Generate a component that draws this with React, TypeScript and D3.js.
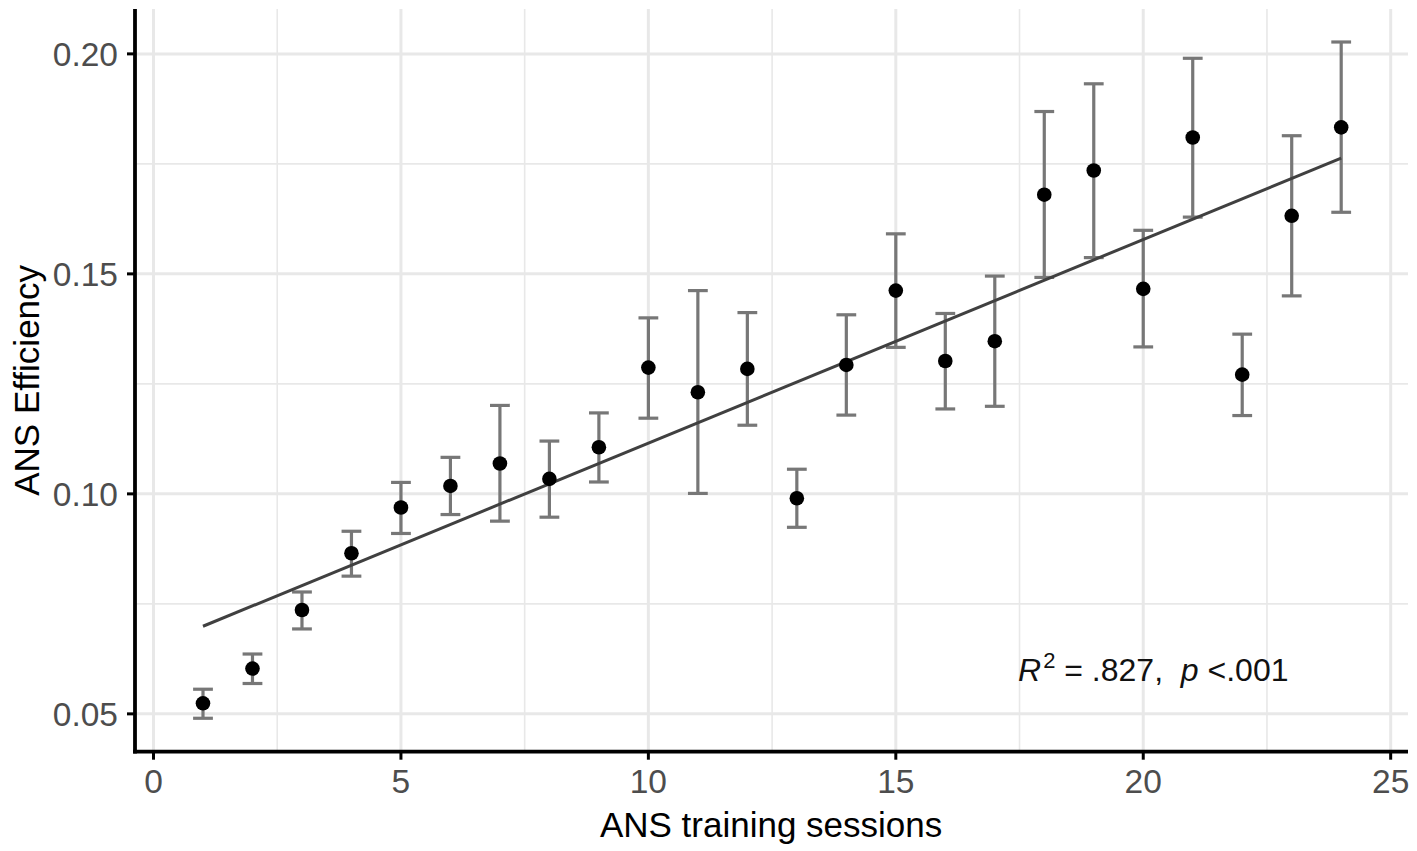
import React from "react";
import * as d3 from "d3";

// session means and error bar limits
const sessions = [1, 2, 3, 4, 5, 6, 7, 8, 9, 10, 11, 12, 13, 14, 15, 16, 17, 18, 19, 20, 21, 22, 23, 24];
const means = [
  0.0524, 0.0603, 0.0736, 0.0865, 0.0969, 0.1018, 0.1069, 0.1034, 0.1106, 0.1287, 0.1231, 0.1284,
  0.099, 0.1293, 0.1462, 0.1302, 0.1347, 0.168, 0.1735, 0.1466, 0.181, 0.1271, 0.1632, 0.1833,
];
const upper = [
  0.0556, 0.0636, 0.0777, 0.0915, 0.1026, 0.1083, 0.1201, 0.112, 0.1184, 0.14, 0.1462, 0.1412,
  0.1056, 0.1407, 0.1591, 0.141, 0.1495, 0.1869, 0.1932, 0.1599, 0.199, 0.1363, 0.1814, 0.2027,
];
const lower = [
  0.049, 0.0569, 0.0693, 0.0813, 0.091, 0.0953, 0.0938, 0.0947, 0.1027, 0.1172, 0.1001, 0.1156,
  0.0924, 0.1179, 0.1333, 0.1193, 0.1199, 0.1492, 0.1537, 0.1334, 0.1629, 0.1178, 0.145, 0.164,
];

const xTicks = [0, 5, 10, 15, 20, 25];
const xMinor = [2.5, 7.5, 12.5, 17.5, 22.5];
const yTicks = [0.05, 0.1, 0.15, 0.2];
const yMinor = [0.075, 0.125, 0.175];

const W = 1417;
const H = 851;
const FONT = "'Liberation Sans', Arial, Helvetica, sans-serif";

const App: React.FC = () => {
  const left = 135;
  const right = 1408;
  const top = 9;
  const bottom = 751.7;

  const x = d3.scaleLinear().domain([-0.374, 25.35]).range([left, right]);
  const y = d3.scaleLinear().domain([0.0414, 0.2102]).range([bottom, top]);

  // least squares fit of the means
  const mx = d3.mean(sessions) || 0;
  const my = d3.mean(means) || 0;
  let sxy = 0;
  let sxx = 0;
  sessions.forEach((s, i) => {
    sxy += (s - mx) * (means[i] - my);
    sxx += (s - mx) * (s - mx);
  });
  const slope = sxy / sxx;
  const intercept = my - slope * mx;
  const xExt = d3.extent(sessions) as [number, number];
  const fit = d3
    .line<number>()
    .x((d) => x(d))
    .y((d) => y(intercept + slope * d));

  const capHalf = x(0.2) - x(0);

  return (
    <svg width={W} height={H} style={{ position: "absolute", left: 0, top: 0, background: "#fff" }}>
      <rect x={0} y={0} width={W} height={H} fill="#fff" />
      {/* grid */}
      <g stroke="#e8e8e8" fill="none">
        {xMinor.map((t) => (
          <line key={"xm" + t} x1={x(t)} x2={x(t)} y1={top} y2={bottom} strokeWidth={1.6} />
        ))}
        {yMinor.map((t) => (
          <line key={"ym" + t} x1={left} x2={right} y1={y(t)} y2={y(t)} strokeWidth={1.6} />
        ))}
        {xTicks.map((t) => (
          <line key={"xg" + t} x1={x(t)} x2={x(t)} y1={top} y2={bottom} strokeWidth={3} />
        ))}
        {yTicks.map((t) => (
          <line key={"yg" + t} x1={left} x2={right} y1={y(t)} y2={y(t)} strokeWidth={3} />
        ))}
      </g>

      {/* error bars */}
      <g stroke="#777777" strokeWidth={3.2} fill="none">
        {sessions.map((s, i) => (
          <g key={"eb" + s}>
            <line x1={x(s)} x2={x(s)} y1={y(lower[i])} y2={y(upper[i])} />
            <line x1={x(s) - capHalf} x2={x(s) + capHalf} y1={y(upper[i])} y2={y(upper[i])} />
            <line x1={x(s) - capHalf} x2={x(s) + capHalf} y1={y(lower[i])} y2={y(lower[i])} />
          </g>
        ))}
      </g>

      {/* fit line */}
      <path d={fit(xExt) || ""} stroke="#404040" strokeWidth={3} fill="none" />

      {/* points */}
      <g fill="#000">
        {sessions.map((s, i) => (
          <circle key={"pt" + s} cx={x(s)} cy={y(means[i])} r={7.3} />
        ))}
      </g>

      {/* axes */}
      <g stroke="#000" strokeWidth={3}>
        {xTicks.map((t) => (
          <line key={"xt" + t} x1={x(t)} x2={x(t)} y1={bottom} y2={bottom + 8} />
        ))}
        {yTicks.map((t) => (
          <line key={"yt" + t} x1={left - 8} x2={left} y1={y(t)} y2={y(t)} />
        ))}
      </g>
      <line x1={left} x2={left} y1={top} y2={bottom + 1.8} stroke="#000" strokeWidth={3.8} />
      <line x1={left - 1.9} x2={right} y1={bottom} y2={bottom} stroke="#000" strokeWidth={3.8} />

      <g fontFamily={FONT} fontSize={33.5} fill="#4d4d4d">
        {xTicks.map((t) => (
          <text key={"xl" + t} x={x(t)} y={bottom + 41} textAnchor="middle">
            {d3.format("d")(t)}
          </text>
        ))}
        {yTicks.map((t) => (
          <text key={"yl" + t} x={left - 17} y={y(t) + 12} textAnchor="end">
            {d3.format(".2f")(t)}
          </text>
        ))}
      </g>

      {/* titles */}
      <text x={(x(0) + x(25)) / 2 - 1} y={837} textAnchor="middle" fontFamily={FONT} fontSize={35} fill="#000">
        ANS training sessions
      </text>
      <text
        transform={`translate(39, ${(top + bottom) / 2}) rotate(-90)`}
        textAnchor="middle"
        fontFamily={FONT}
        fontSize={35}
        fill="#000"
      >
        ANS Efficiency
      </text>

      {/* annotation */}
      <text
        x={x(17.47)}
        y={y(0.0575)}
        fontFamily={FONT}
        fontSize={32}
        fill="#111"
        style={{ whiteSpace: "pre" }}
      >
        <tspan fontStyle="italic">R</tspan>
        <tspan fontSize={22} dy={-13} dx={2}>2</tspan>
        <tspan dy={13}>{" = .827,  "}</tspan>
        <tspan fontStyle="italic">p</tspan>
        <tspan>{" <.001"}</tspan>
      </text>
    </svg>
  );
};

export default App;
